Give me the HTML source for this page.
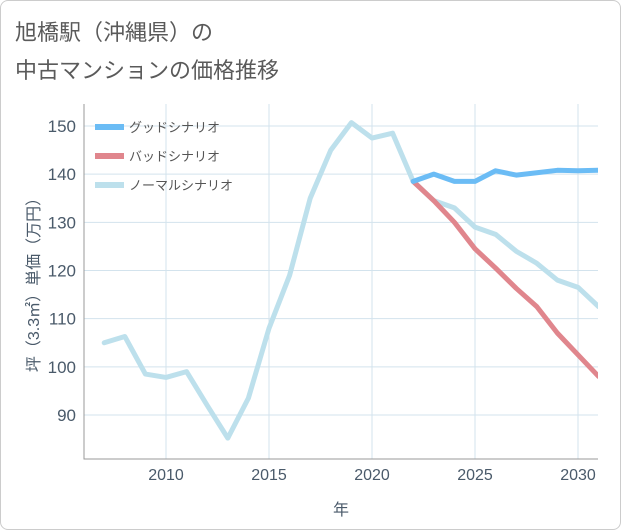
<!DOCTYPE html>
<html><head><meta charset="utf-8"><style>
body{margin:0;background:#fff}
.wrap{position:relative;width:619px;height:528px;border:1px solid #ccc;border-radius:8px;background:#fff;overflow:hidden}
text{font-family:"Liberation Sans","Noto Sans CJK JP",sans-serif}
</style></head><body>
<div class="wrap">
<svg id="chart" width="621" height="530">
<text x="14" y="39" font-size="22" fill="#5a5a5a">旭橋駅（沖縄県）の</text>
<text x="14" y="77" font-size="22" fill="#5a5a5a">中古マンションの価格推移</text>
</svg>
</div>
<script>
const years=[2007,2008,2009,2010,2011,2012,2013,2014,2015,2016,2017,2018,2019,2020,2021,2022,2023,2024,2025,2026,2027,2028,2029,2030,2031];
const normal=[105,106.3,98.5,97.8,99,92,85.2,93.5,108,119,135,145,150.7,147.5,148.5,138.5,134.5,133,129,127.5,124,121.5,118,116.5,112.5];
const goodYears=[2022,2023,2024,2025,2026,2027,2028,2029,2030,2031];
const good=[138.5,140,138.5,138.5,140.7,139.8,140.3,140.8,140.7,140.8];
const bad=[138.5,134.5,130,124.5,120.5,116.3,112.5,107,102.5,98];
const xTicks=[2010,2015,2020,2025,2030];
const yTicks=[90,100,110,120,130,140,150];
const legendLabels=["グッドシナリオ","バッドシナリオ","ノーマルシナリオ"];
const colors=["#6bbcf5","#e0868d","#bde0ec"];

const NS="http://www.w3.org/2000/svg";
const svg=document.getElementById('chart');
const L=83,R=597,T=103,B=458;
const xs=y=>165+(y-2010)*20.6;
const ys=v=>414-(v-90)*4.817;
function mk(tag,attrs,parent){const e=document.createElementNS(NS,tag);for(const k in attrs)e.setAttribute(k,attrs[k]);(parent||svg).appendChild(e);return e;}
xTicks.forEach(t=>{const l=mk('line',{x1:xs(t),x2:xs(t),y1:T,y2:B,stroke:'#d3e3ed','stroke-width':1});


const tx=mk('text',{x:xs(t),y:B+21,'font-size':16,fill:'#4a5a6a','text-anchor':'middle'});tx.textContent=t;

});
yTicks.forEach(t=>{const l=mk('line',{x1:L,x2:R,y1:ys(t),y2:ys(t),stroke:'#d3e3ed','stroke-width':1});


const tx=mk('text',{x:L-8,y:ys(t)+6,'font-size':17,fill:'#4a5a6a','text-anchor':'end'});tx.textContent=t;

});
const ax=mk('path',{d:`M${L},${T}V${B}H${R}`,fill:'none',stroke:'#999','stroke-width':1});


function line(xv,yv,c,name){const d=xv.map((x,i)=>(i?'L':'M')+xs(x)+','+ys(yv[i])).join('');
const p=mk('path',{d,fill:'none',stroke:c,'stroke-width':5,'stroke-linejoin':'round','stroke-linecap':'round','clip-path':'url(#cp)'});

}
const clip=mk('clipPath',{id:'cp'});mk('rect',{x:L,y:T,width:R-L,height:B-T},clip);
line(years,normal,colors[2],'normal-series-line');
line(goodYears,bad,colors[1],'bad-series-line');
line(goodYears,good,colors[0],'good-series-line');
legendLabels.forEach((s,i)=>{const y=126+i*29;
const r=mk('rect',{x:94,y:y-3,width:29,height:6,fill:colors[i]});


const t=mk('text',{x:128,y:y+5,'font-size':13,fill:'#555'});t.textContent=s;

});
const xt=mk('text',{x:340,y:514,'font-size':16,fill:'#4a5a6a','text-anchor':'middle'});xt.textContent='年';


const yt=mk('text',{x:0,y:0,'font-size':16,fill:'#4a5a6a','text-anchor':'middle',transform:'translate(38,280) rotate(-90)'});yt.textContent='坪（3.3㎡）単価（万円）';


</script>
</body></html>
